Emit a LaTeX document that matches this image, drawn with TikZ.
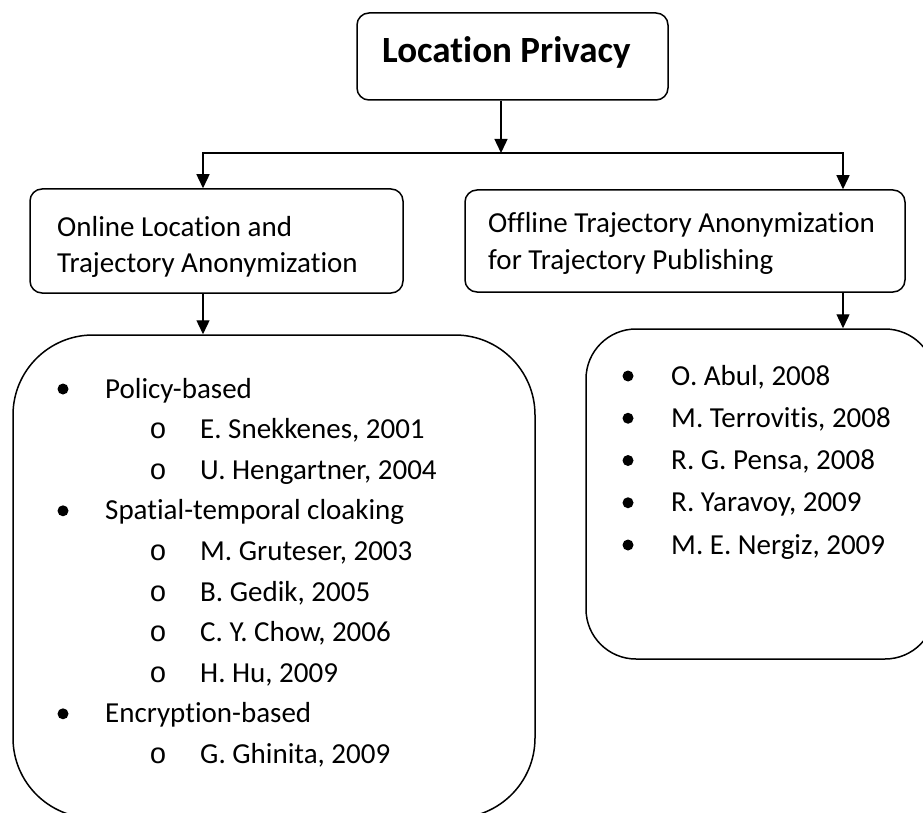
\documentclass[tikz,border=0pt]{standalone}
\usepackage{fontspec}
\setmainfont{Carlito}[Ligatures=NoCommon]
\newfontfamily\monofont{Liberation Mono}
\usetikzlibrary{arrows.meta}
\begin{document}
\begin{tikzpicture}[x=1pt,y=-1pt,
  box/.style={draw, line width=1.5pt, rounded corners=12pt, inner sep=0pt},
  bigbox/.style={draw, line width=1.5pt, inner sep=0pt},
  conn/.style={line width=1.4pt, line join=miter},
  arr/.style={conn, -{Triangle[length=14pt,width=13pt]}},
  txt/.style={anchor=base west, inner sep=0pt, font=\fontsize{29}{35}\selectfont},
  ttl/.style={anchor=base west, inner sep=0pt, font=\bfseries\fontsize{37}{44}\selectfont},
  bul/.style={circle, fill, inner sep=0pt, minimum size=11pt},
  subb/.style={anchor=base, inner sep=0pt, font=\monofont\fontsize{29}{35}\selectfont}
]
\useasboundingbox (0,0) rectangle (923,813);
\clip (0,0) rectangle (923,813);

% boxes
\node[box, minimum width=311pt, minimum height=87pt] (top) at (512.5,56.5) {};
\node[box, minimum width=373pt, minimum height=104pt] (online) at (216.5,241) {};
\node[box, minimum width=440pt, minimum height=102pt] (offline) at (685,241) {};
\node[bigbox, rounded corners=80pt, minimum width=522pt, minimum height=483pt] (onlist) at (274,576.5) {};
\node[bigbox, rounded corners=50pt, minimum width=349pt, minimum height=330pt] (offlist) at (760.5,494) {};

% texts in boxes
\node[ttl] (ttltext) at (382,63) {Location Privacy};
\node[txt] (on1) at (57,236) {Online Location and};
\node[txt] (on2) at (57,272) {Trajectory Anonymization};
\node[txt] (off1) at (488,233) {Offline Trajectory Anonymization};
\node[txt] (off2) at (488,269) {for Trajectory Publishing};

% connectors
\coordinate (j) at (501,153);
\coordinate (jl) at (203,153);
\coordinate (jr) at (843,153);
\draw[arr] (top.south -| j) -- (j);
\draw[arr] (j) -- (jl) -- (online.north -| jl);
\draw[arr] (j) -- (jr) -- (offline.north -| jr);
\draw[arr] (online.south -| jl) -- (onlist.north -| jl);
\draw[arr] (offline.south -| jr) -- (offlist.north -| jr);

% left list
\node[bul] (lb0) at (63,389) {};
\node[txt] (lt0) at (105,398) {Policy-based};
\node[subb] (ls1) at (158,438.6) {o};
\node[txt] (lt1) at (200,438.6) {E. Snekkenes, 2001};
\node[subb] (ls2) at (158,479.2) {o};
\node[txt] (lt2) at (200,479.2) {U. Hengartner, 2004};
\node[bul] (lb3) at (63,510.8) {};
\node[txt] (lt3) at (105,519.8) {Spatial-temporal cloaking};
\node[subb] (ls4) at (158,560.4) {o};
\node[txt] (lt4) at (200,560.4) {M. Gruteser, 2003};
\node[subb] (ls5) at (158,601) {o};
\node[txt] (lt5) at (200,601) {B. Gedik, 2005};
\node[subb] (ls6) at (158,641.6) {o};
\node[txt] (lt6) at (200,641.6) {C. Y. Chow, 2006};
\node[subb] (ls7) at (158,682.2) {o};
\node[txt] (lt7) at (200,682.2) {H. Hu, 2009};
\node[bul] (lb8) at (63,713.8) {};
\node[txt] (lt8) at (105,722.8) {Encryption-based};
\node[subb] (ls9) at (158,763.4) {o};
\node[txt] (lt9) at (200,763.4) {G. Ghinita, 2009};

% right list
\node[bul] (rb0) at (628,376) {};
\node[txt] (rt0) at (671,385) {O. Abul, 2008};
\node[bul] (rb1) at (628,418.25) {};
\node[txt] (rt1) at (671,427.25) {M. Terrovitis, 2008};
\node[bul] (rb2) at (628,460.5) {};
\node[txt] (rt2) at (671,469.5) {R. G. Pensa, 2008};
\node[bul] (rb3) at (628,502.75) {};
\node[txt] (rt3) at (671,511.75) {R. Yaravoy, 2009};
\node[bul] (rb4) at (628,545) {};
\node[txt] (rt4) at (671,554) {M. E. Nergiz, 2009};
\end{tikzpicture}
\end{document}
